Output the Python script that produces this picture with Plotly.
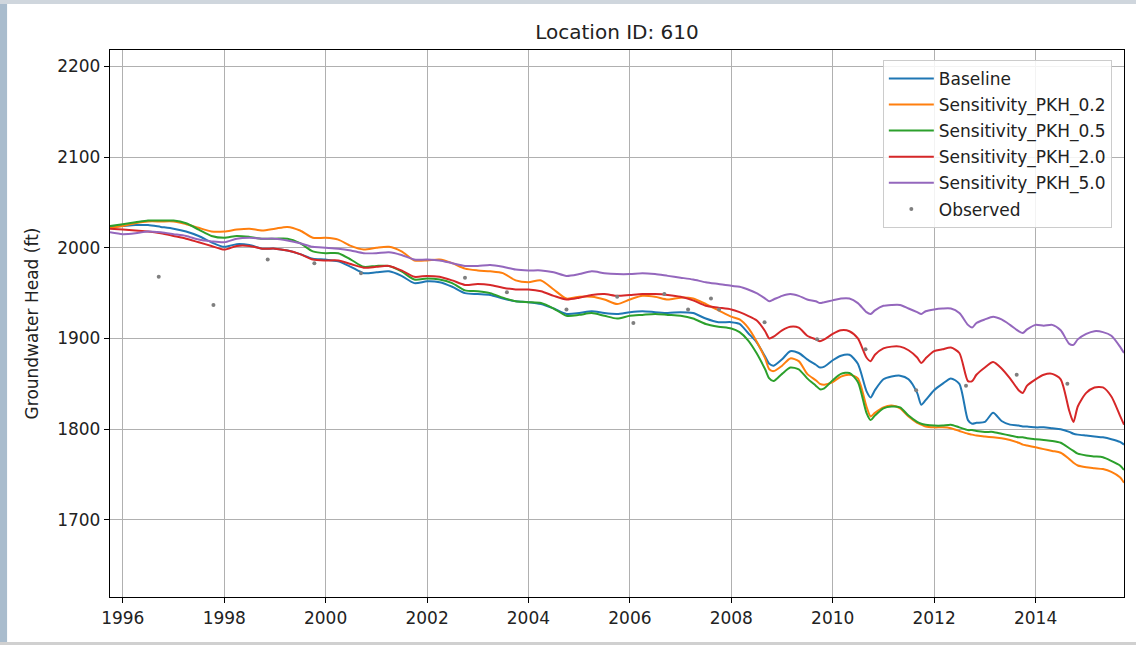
"""Groundwater head sensitivity chart."""
import plotly.graph_objects as go

# sample dates: quarterly through 2007, denser afterwards to catch the seasonal dips
DATES = (["1995-10-01"]
         + [f"{y}-{m:02d}-01" for y in range(1996, 2008) for m in (1, 4, 7, 10)]
         + [f"{y}-{m:02d}-01" for y in range(2008, 2015) for m in (1, 3, 5, 7, 9, 10, 11)]
         + ["2015-01-01", "2015-03-01", "2015-05-01", "2015-07-01", "2015-09-01", "2015-09-30"])

BASELINE = [
    2023,
    2024, 2025, 2025, 2023,
    2021, 2018, 2013, 2006,
    2001, 2004, 2003, 1999,
    1999, 1997, 1993, 1988,
    1987, 1985, 1979, 1972,
    1973, 1974, 1969, 1961,
    1963, 1962, 1957, 1950,
    1949, 1948, 1944, 1941,
    1940, 1938, 1933, 1927,
    1928, 1930, 1928, 1927,
    1929, 1930, 1929, 1928,
    1929, 1928, 1922, 1918,
    1918, 1916, 1906, 1896, 1880, 1872, 1870,
    1877, 1886, 1884, 1877, 1871, 1868, 1869,
    1876, 1881, 1882, 1872, 1842, 1835, 1843,
    1855, 1858, 1859, 1855, 1840, 1827, 1832,
    1843, 1850, 1856, 1850, 1810, 1806, 1807,
    1808, 1818, 1809, 1805, 1804, 1803, 1803,
    1802, 1802, 1801, 1800, 1797, 1795, 1794,
    1793, 1792, 1791, 1789, 1786, 1783,
]

PKH_02 = [
    2022,
    2024, 2027, 2029, 2029,
    2029, 2026, 2022, 2018,
    2018, 2020, 2021, 2019,
    2021, 2023, 2019, 2011,
    2011, 2009, 2002, 1998,
    2000, 2001, 1996, 1986,
    1986, 1987, 1983, 1977,
    1975, 1974, 1972, 1964,
    1962, 1964, 1954, 1944,
    1946, 1946, 1943, 1938,
    1943, 1947, 1946, 1943,
    1945, 1944, 1938, 1931,
    1924, 1921, 1912, 1897, 1878, 1866, 1864,
    1870, 1878, 1875, 1861, 1854, 1850, 1849,
    1852, 1858, 1860, 1856, 1825, 1814, 1818,
    1824, 1826, 1823, 1814, 1807, 1805, 1803,
    1802, 1802, 1801, 1798, 1795, 1794, 1793,
    1792, 1791, 1790, 1788, 1785, 1783, 1782,
    1780, 1778, 1776, 1774, 1767, 1763, 1760,
    1758, 1757, 1756, 1753, 1747, 1741,
]

PKH_05 = [
    2024,
    2026, 2028, 2030, 2030,
    2030, 2027, 2020, 2013,
    2011, 2013, 2012, 2010,
    2010, 2010, 2005, 1996,
    1994, 1994, 1987, 1979,
    1980, 1980, 1974, 1965,
    1966, 1965, 1961, 1953,
    1952, 1950, 1945, 1941,
    1940, 1939, 1933, 1925,
    1926, 1928, 1925, 1922,
    1925, 1926, 1927, 1926,
    1925, 1922, 1916, 1913,
    1911, 1907, 1898, 1884, 1866, 1856, 1853,
    1861, 1868, 1866, 1856, 1848, 1844, 1845,
    1854, 1861, 1862, 1852, 1818, 1810, 1815,
    1823, 1825, 1824, 1815, 1808, 1806, 1805,
    1804, 1804, 1805, 1802, 1799, 1799, 1798,
    1797, 1797, 1795, 1793, 1791, 1791, 1790,
    1789, 1788, 1787, 1785, 1779, 1776, 1773,
    1771, 1770, 1769, 1765, 1760, 1755,
]

PKH_20 = [
    2021,
    2020, 2019, 2018, 2016,
    2013, 2010, 2006, 2002,
    1998, 2002, 2002, 1999,
    1999, 1997, 1993, 1987,
    1986, 1986, 1982, 1978,
    1979, 1980, 1975, 1968,
    1969, 1968, 1964, 1959,
    1960, 1959, 1956, 1954,
    1954, 1952, 1947, 1943,
    1945, 1948, 1949, 1947,
    1948, 1949, 1949, 1948,
    1946, 1942, 1936, 1934,
    1932, 1929, 1925, 1920, 1908, 1900, 1902,
    1909, 1913, 1912, 1903, 1899, 1897, 1899,
    1905, 1909, 1908, 1900, 1879, 1875, 1882,
    1889, 1891, 1891, 1887, 1879, 1873, 1878,
    1886, 1888, 1890, 1884, 1853, 1853, 1860,
    1868, 1874, 1867, 1856, 1843, 1840, 1848,
    1855, 1860, 1861, 1855, 1820, 1808, 1825,
    1840, 1846, 1846, 1836, 1815, 1805,
]

PKH_50 = [
    2017,
    2015, 2016, 2018, 2017,
    2015, 2013, 2009, 2007,
    2006, 2010, 2011, 2010,
    2010, 2008, 2005, 2001,
    2000, 1999, 1997, 1994,
    1994, 1995, 1992, 1987,
    1987, 1986, 1983, 1980,
    1980, 1981, 1979, 1976,
    1975, 1975, 1973, 1969,
    1971, 1974, 1972, 1971,
    1971, 1972, 1971, 1969,
    1967, 1965, 1962, 1960,
    1958, 1957, 1954, 1950, 1944, 1941, 1943,
    1947, 1949, 1947, 1943, 1941, 1939, 1940,
    1942, 1944, 1944, 1939, 1929, 1927, 1931,
    1936, 1937, 1937, 1933, 1929, 1927, 1930,
    1932, 1933, 1933, 1928, 1915, 1912, 1917,
    1921, 1924, 1921, 1915, 1908, 1906, 1910,
    1915, 1914, 1915, 1909, 1894, 1893, 1899,
    1905, 1908, 1907, 1903, 1891, 1884,
]

OBS_DATES = ["1996-09-16", "1997-10-15", "1998-11-10", "1999-10-12", "2000-09-12",
             "2002-10-01", "2003-07-30", "2004-10-01", "2005-10-01", "2006-01-26",
             "2006-09-06", "2007-02-24", "2007-08-08", "2007-10-05", "2008-08-28",
             "2009-09-10", "2010-08-25", "2011-08-25", "2012-08-18", "2013-08-18",
             "2014-08-18"]
OBS_HEAD = [1968, 1937, 1987, 1983, 1972,
            1967, 1951, 1932, 1946, 1917,
            1949, 1932, 1944, 1932, 1918,
            1899, 1888, 1843, 1848, 1860,
            1850]

SERIES = [
    ("Baseline", BASELINE, "#1f77b4"),
    ("Sensitivity_PKH_0.2", PKH_02, "#ff7f0e"),
    ("Sensitivity_PKH_0.5", PKH_05, "#2ca02c"),
    ("Sensitivity_PKH_2.0", PKH_20, "#d62728"),
    ("Sensitivity_PKH_5.0", PKH_50, "#9467bd"),
]

FONT = "DejaVu Sans, Arial, sans-serif"

fig = go.Figure()
for name, vals, color in SERIES:
    fig.add_trace(go.Scatter(x=DATES, y=vals, mode="lines", name=name, legendgroup=name,
                             line=dict(color=color, width=2, shape="spline", smoothing=0.7)))
fig.add_trace(go.Scatter(x=OBS_DATES, y=OBS_HEAD, mode="markers", name="Observed",
                         legendgroup="obs", marker=dict(color="#7f7f7f", size=4)))

axis_common = dict(showline=True, linecolor="black", linewidth=1.3, mirror=True,
                   showgrid=True, gridcolor="#b0b0b0", gridwidth=1,
                   ticks="outside", ticklen=5, tickcolor="black",
                   tickfont=dict(size=17, color="#222"), zeroline=False)

fig.update_layout(
    width=1136, height=645,
    margin=dict(l=110, r=12, t=50, b=48),
    paper_bgcolor="white", plot_bgcolor="white",
    font=dict(family=FONT, color="#222"),
    title=dict(text="Location ID: 610", x=0.5, xref="paper", y=1 - 32 / 645,
               yref="container", yanchor="middle", font=dict(size=20, color="#222")),
    xaxis=dict(range=["1995-10-01", "2015-09-30"], dtick="M24", tick0="1996-01-01",
               tickformat="%Y", **axis_common),
    yaxis=dict(range=[1615, 2218], dtick=100,
               title=dict(text="Groundwater Head (ft)", font=dict(size=17, color="#222"), standoff=14),
               **axis_common),
    legend=dict(x=0.988, y=0.982, xanchor="right", yanchor="top",
                bgcolor="rgba(255,255,255,0.85)", bordercolor="#cccccc", borderwidth=1,
                font=dict(size=17, color="#222"), tracegroupgap=1, itemwidth=45),
    showlegend=True,
    # blurred slide edges around the screenshot
    shapes=[
        dict(type="rect", xref="paper", yref="paper", x0=-0.11, x1=-0.1015, y0=-0.1, y1=1.1,
             fillcolor="#a9bccd", line=dict(width=0), layer="below"),
        dict(type="rect", xref="paper", yref="paper", x0=-0.11, x1=1.02, y0=1.0842, y1=1.1,
             fillcolor="#cfd6dd", line=dict(width=0), layer="below"),
        dict(type="rect", xref="paper", yref="paper", x0=-0.11, x1=1.02, y0=-0.1, y1=-0.0823,
             fillcolor="#d0d0d0", line=dict(width=0), layer="below"),
    ],
)

fig.write_html("out.html", config={"displayModeBar": False},
               post_script="document.body.style.margin='0';")
